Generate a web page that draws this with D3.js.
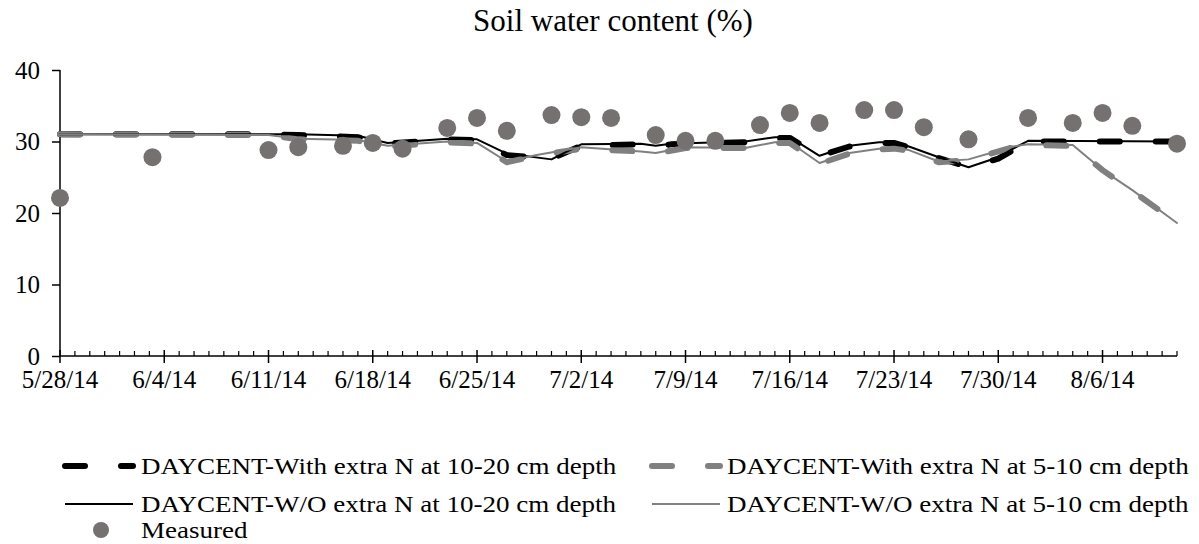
<!DOCTYPE html>
<html>
<head>
<meta charset="utf-8">
<script src="https://cdn.jsdelivr.net/npm/d3@7.9.0/dist/d3.min.js"></script>
<style>
  body { margin: 0; background: #fff; }
  svg { display: block; font-family: "Liberation Serif", "Times New Roman", serif; }
</style>
</head>
<body>
<svg id="chart" width="1199" height="544"></svg>
<script>
// --- Data (day offsets from 5/28/14, soil water content %) ---
const startDate = new Date(2014, 4, 28);
const endDay = 75;
const tickLabels = ['5/28/14', '6/4/14', '6/11/14', '6/18/14', '6/25/14', '7/2/14',
  '7/9/14', '7/16/14', '7/23/14', '7/30/14', '8/6/14'];

const measuredDays = [0, 6.2, 14, 16, 19, 21, 23, 26, 28, 30, 33, 35, 37, 40, 42, 44,
  47, 49, 51, 54, 56, 58, 61, 65, 68, 70, 72, 75];
const measuredVals = [22.1, 27.8, 28.8, 29.2, 29.4, 29.8, 29.0, 31.9, 33.3, 31.5, 33.7, 33.4,
  33.3, 30.9, 30.1, 30.1, 32.3, 34.0, 32.6, 34.4, 34.4, 32.0, 30.3, 33.3, 32.6, 34.0, 32.2, 29.7];

// DAYCENT W/O extra N at 10-20 cm (thin black)
const woDeepDays = [0, 14, 16, 20, 22, 26, 28, 30, 33, 35, 39, 40, 41, 46, 48, 49, 51, 53,
  55, 56, 57, 59, 61, 63, 64, 65, 75];
const woDeepVals = [31.0, 31.0, 31.0, 30.8, 29.8, 30.4, 30.3, 28.3, 27.5, 29.6, 29.7, 29.4,
  29.7, 30.0, 30.6, 30.6, 28.0, 29.4, 29.9, 29.9, 29.3, 27.8, 26.4, 27.8, 29.0, 30.1, 30.0];

// DAYCENT with extra N at 10-20 cm (thick black dashed)
const withDeepDays = woDeepDays;
const withDeepVals = [31.0, 31.0, 30.9, 30.6, 29.7, 30.3, 30.2, 28.1, 27.6, 29.4, 29.6, 29.3,
  29.6, 29.9, 30.5, 30.5, 28.0, 29.3, 29.8, 29.8, 29.2, 27.7, 26.4, 27.6, 28.8, 30.0, 30.0];

// DAYCENT W/O extra N at 5-10 cm (thin grey)
const woShallowDays = [0, 14, 16, 20, 22, 26, 28, 30, 32, 35, 39, 40, 42, 46, 48, 49, 51, 53,
  55, 56, 57, 59, 61, 64, 65, 68, 70, 72, 75];
const woShallowVals = [31.0, 30.9, 30.4, 30.2, 29.4, 30.0, 29.8, 27.2, 28.1, 29.2, 28.6, 28.4,
  29.2, 29.1, 29.9, 29.9, 27.0, 28.4, 29.0, 29.1, 28.8, 27.2, 27.5, 29.3, 29.6, 29.5, 26.0, 23.2, 18.6];

// DAYCENT with extra N at 5-10 cm (thick grey dashed)
const withShallowDays = woShallowDays;
const withShallowVals = [31.0, 30.9, 30.3, 30.1, 29.3, 29.9, 29.7, 27.1, 28.0, 29.0, 28.6, 28.3,
  29.1, 29.1, 29.8, 29.8, 26.9, 28.3, 28.9, 29.0, 28.7, 27.1, 27.4, 29.2, 29.5, 29.4, 26.0, 23.1, 18.6];

const yTicks = [0, 10, 20, 30, 40];

const day = d => d3.timeHour.offset(startDate, Math.round(d * 24));

// --- Scales ---
const svg = d3.select('#chart');
const x = d3.scaleTime().domain([startDate, day(endDay)]).range([60, 1177]);
const y = d3.scaleLinear().domain([0, 40]).range([356, 70]);

// --- Title ---
svg.append('text')
  .attr('x', 613).attr('y', 20).attr('dy', '0.35em')
  .attr('text-anchor', 'middle')
  .style('font-size', '31px')
  .text('Soil water content (%)');

// --- Y axis ---
const yAxis = svg.append('g').attr('transform', 'translate(60,0)')
  .call(d3.axisLeft(y).tickValues(yTicks).tickSize(8).tickPadding(12));
yAxis.select('.domain').attr('stroke', '#000').attr('stroke-width', 1.5).attr('d', `M0,${y(0)}V${y(40)}`);
yAxis.selectAll('line').attr('stroke-width', 1.5);
yAxis.selectAll('text').style('font-size', '25px').style('font-family', 'Liberation Serif');

// --- X axis: minor daily ticks (inside), weekly major ticks crossing ---
const xg = svg.append('g');
xg.append('line').attr('x1', x(startDate)).attr('x2', x(day(endDay)))
  .attr('y1', y(0)).attr('y2', y(0)).attr('stroke', '#000').attr('stroke-width', 1.5);
const allDays = d3.range(0, endDay + 1);
xg.selectAll('.minor').data(allDays.filter(d => d % 7 !== 0)).join('line')
  .attr('x1', d => x(day(d))).attr('x2', d => x(day(d)))
  .attr('y1', y(0)).attr('y2', y(0) - 5)
  .attr('stroke', '#000').attr('stroke-width', 1.2);
const majors = d3.range(0, 71, 7);
xg.selectAll('.major').data(majors).join('line')
  .attr('x1', d => x(day(d))).attr('x2', d => x(day(d)))
  .attr('y1', y(0) - 6).attr('y2', y(0) + 7)
  .attr('stroke', '#000').attr('stroke-width', 1.5);
xg.selectAll('.lab').data(majors).join('text')
  .attr('x', d => x(day(d))).attr('y', y(0) + 23).attr('dy', '0.35em')
  .attr('text-anchor', 'middle')
  .style('font-size', '25px')
  .text((d, i) => tickLabels[i]);

// --- Series ---
const line = d3.line().x(d => x(day(d[0]))).y(d => y(d[1]));
const zip = (a, b) => a.map((d, i) => [d, b[i]]);

const series = [
  { days: withDeepDays, vals: withDeepVals, color: '#000', width: 6, dash: '20,36' },
  { days: withShallowDays, vals: withShallowVals, color: '#808080', width: 6, dash: '20,36' },
  { days: woDeepDays, vals: woDeepVals, color: '#000', width: 2, dash: null },
  { days: woShallowDays, vals: woShallowVals, color: '#808080', width: 2, dash: null },
];
series.forEach(s => {
  svg.append('path')
    .attr('d', line(zip(s.days, s.vals)))
    .attr('fill', 'none')
    .attr('stroke', s.color)
    .attr('stroke-width', s.width)
    .attr('stroke-linecap', 'round')
    .attr('stroke-linejoin', 'round')
    .attr('stroke-dasharray', s.dash);
});

svg.append('g').selectAll('circle').data(zip(measuredDays, measuredVals)).join('circle')
  .attr('cx', d => x(day(d[0]))).attr('cy', d => y(d[1]))
  .attr('r', 9).attr('fill', '#767171');

// --- Legend (narrow-height text stretched to the reference widths) ---
const legend = svg.append('g').style('font-size', '23px');
const legendItems = [
  { lx: 65, ly: 466, tx: 141, label: 'DAYCENT-With extra N at 10-20 cm depth', color: '#000', width: 6, dash: '20,36' },
  { lx: 652, ly: 466, tx: 727, label: 'DAYCENT-With extra N at 5-10 cm depth', color: '#808080', width: 6, dash: '20,36' },
  { lx: 65, ly: 504, tx: 141, label: 'DAYCENT-W/O extra N at 10-20 cm depth', color: '#000', width: 2, dash: null },
  { lx: 652, ly: 504, tx: 727, label: 'DAYCENT-W/O extra N at 5-10 cm depth', color: '#808080', width: 2, dash: null },
];
function stretchText(t) {
  const w = t.node().getComputedTextLength();
  t.attr('textLength', w * 27 / 23).attr('lengthAdjust', 'spacingAndGlyphs');
}
legendItems.forEach(it => {
  legend.append('line')
    .attr('x1', it.lx).attr('x2', it.lx + 68).attr('y1', it.ly).attr('y2', it.ly)
    .attr('stroke', it.color).attr('stroke-width', it.width)
    .attr('stroke-linecap', it.dash ? 'round' : 'butt')
    .attr('stroke-dasharray', it.dash);
  const t = legend.append('text').attr('x', it.tx).attr('y', it.ly).attr('dy', '0.35em').text(it.label);
  stretchText(t);
});
legend.append('circle').attr('cx', 101).attr('cy', 530).attr('r', 8).attr('fill', '#767171');
stretchText(legend.append('text').attr('x', 141).attr('y', 530).attr('dy', '0.33em').text('Measured'));
</script>
</body>
</html>
